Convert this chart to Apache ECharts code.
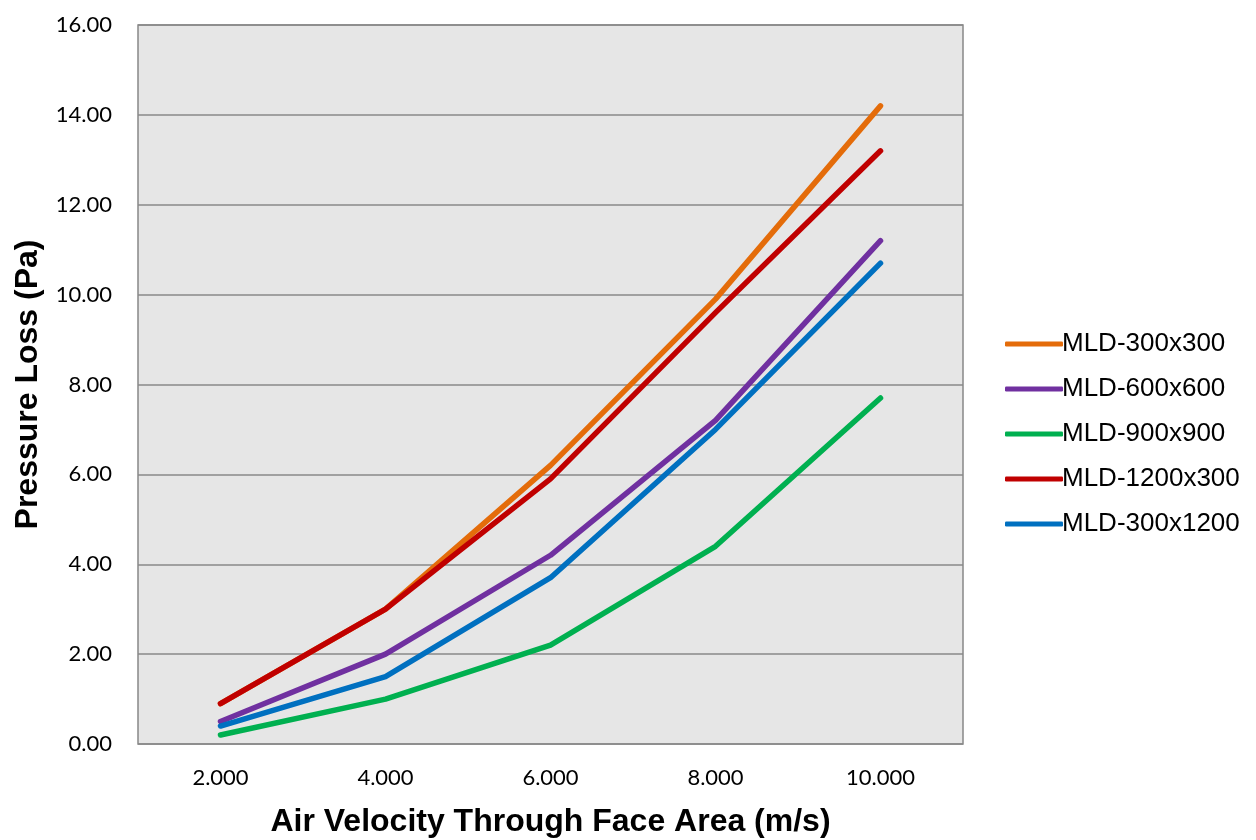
<!DOCTYPE html>
<html><head><meta charset="utf-8">
<script src="https://cdn.jsdelivr.net/npm/echarts@6/dist/echarts.min.js"></script>
<style>html,body{margin:0;padding:0;background:#fff}#c{width:1256px;height:840px}</style>
</head><body><div id="c"></div>
<script>
const categories = ['2.000','4.000','6.000','8.000','10.000'];
const seriesNames = ['MLD-300x300','MLD-600x600','MLD-900x900','MLD-1200x300','MLD-300x1200'];
const s300x300 = [0.9, 3.0, 6.2, 9.9, 14.2];
const s600x600 = [0.5, 2.0, 4.2, 7.2, 11.2];
const s900x900 = [0.2, 1.0, 2.2, 4.4, 7.7];
const s1200x300 = [0.9, 3.0, 5.9, 9.6, 13.2];
const s300x1200 = [0.4, 1.5, 3.7, 7.0, 10.7];
const colors = ['#E46C0A','#7030A0','#00B050','#C00000','#0070C0'];
const yTicks = {min:0, max:16, interval:2};

const data = [s300x300, s600x600, s900x900, s1200x300, s300x1200];
const chart = echarts.init(document.getElementById('c'));
chart.setOption({
  animation:false,
  color: colors,
  grid:{left:138, top:25, right:293, bottom:96, containLabel:false, outerBoundsMode:'none',
    show:true, backgroundColor:'#E6E6E6', borderColor:'#888', borderWidth:1.5},
  xAxis:{type:'category', data:categories, boundaryGap:true,
    axisLine:{show:false}, axisTick:{show:false}, splitLine:{show:false},
    axisLabel:{fontFamily:'Lato, "Open Sans", sans-serif', fontSize:22, color:'#000', margin:23},
    name:'Air Velocity Through Face Area (m/s)', nameLocation:'middle', nameGap:62,
    nameTextStyle:{fontFamily:'"Liberation Sans", Arial, sans-serif', fontWeight:'bold', fontSize:32, color:'#000'}
  },
  yAxis:{type:'value', min:yTicks.min, max:yTicks.max, interval:yTicks.interval,
    axisLine:{show:false}, axisTick:{show:false},
    splitLine:{lineStyle:{color:'#888', width:1.5}},
    axisLabel:{formatter:v=>v.toFixed(2), fontFamily:'Lato, "Open Sans", sans-serif', fontSize:22, color:'#000', margin:26},
    name:'Pressure Loss (Pa)', nameLocation:'middle', nameGap:94, nameRotate:90,
    nameTextStyle:{fontFamily:'"Liberation Sans", Arial, sans-serif', fontWeight:'bold', fontSize:32, color:'#000'}
  },
  legend:{orient:'vertical', left:1000, top:326, itemWidth:58, itemHeight:5, itemGap:19,
    icon:'roundRect',
    textStyle:{fontFamily:'"Liberation Sans", Arial, sans-serif', fontSize:26, color:'#000', padding:[0,0,0,-6]},
    data: seriesNames},
  series: seriesNames.map((n,i)=>({name:n, type:'line', data:data[i], symbol:'none',
    lineStyle:{width:5.5, color:colors[i], cap:'round', join:'round'}, itemStyle:{color:colors[i]}}))
});
</script></body></html>
